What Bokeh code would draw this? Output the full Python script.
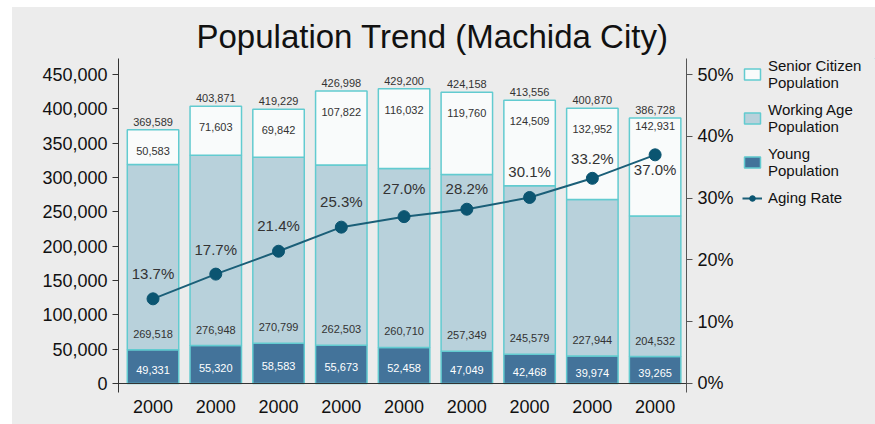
from bokeh.plotting import figure
from bokeh.layouts import row
from bokeh.models import (Range1d, LinearAxis, FixedTicker, SingleIntervalTicker,
                          NumeralTickFormatter, PrintfTickFormatter, Span, Legend,
                          LegendItem, ColumnDataSource)
from bokeh.core.properties import value
from bokeh.embed import file_html
from bokeh.resources import INLINE

# ---- data ----
year_labels = ["2000", "2000", "2000", "2000", "2000", "2000", "2000", "2000", "2000"]
young = [49331, 55320, 58583, 55673, 52458, 47049, 42468, 39974, 39265]
working = [269518, 276948, 270799, 262503, 260710, 257349, 245579, 227944, 204532]
senior = [50583, 71603, 69842, 107822, 116032, 119760, 124509, 132952, 142931]
total = [369589, 403871, 419229, 426998, 429200, 424158, 413556, 400870, 386728]
aging_rate = [13.7, 17.7, 21.4, 25.3, 27.0, 28.2, 30.1, 33.2, 37.0]
series_names = ["Senior Citizen\nPopulation", "Working Age\nPopulation",
                "Young\nPopulation", "Aging Rate"]

# ---- label placement styling (screen px) ----
rate_label_dy = [-25, -25, -26, -26, -28, -21, -26, -20, 15]
senior_label_dy = [21, 21, 21, 21, 21, 21, 21, 21, 8]

FONT = "Liberation Sans"
BG = "#ececec"
OUTLINE = "#62cbd0"
C_SEN, C_WORK, C_YOUNG = "#f9fbfb", "#b8d1db", "#43739a"
C_LINE, C_DOT = "#1b5f78", "#0b5571"

xs = list(range(len(year_labels)))
work_top = [a + b for a, b in zip(young, working)]
sen_top = [a + b for a, b in zip(work_top, senior)]

src = ColumnDataSource(dict(
    x=xs, young=young, work_top=work_top, sen_top=sen_top,
    young_mid=[v / 2 for v in young],
    young_txt=[f"{v:,}" for v in young],
    work_txt=[f"{v:,}" for v in working],
    sen_txt=[f"{v:,}" for v in senior],
    tot_txt=[f"{v:,}" for v in total],
    rate=aging_rate,
    rate_txt=[f"{v:.1f}%" for v in aging_rate],
    rate_dy=rate_label_dy,
    sen_dy=senior_label_dy,
))

ymin, ymax = -13107, 473301
p = figure(width=724, height=417, output_backend="svg", toolbar_location=None,
           x_range=Range1d(-0.55, 8.5), y_range=Range1d(ymin, ymax),
           min_border_left=106, min_border_right=48, min_border_top=51,
           min_border_bottom=32)
p.background_fill_color = BG
p.border_fill_color = BG
p.outline_line_color = None
p.grid.visible = False

p.extra_y_ranges = {"rate": Range1d(ymin / 9000, ymax / 9000)}

# title
p.title.text = "Population Trend (Machida City)"
p.title.text_font = FONT
p.title.text_font_size = "33px"
p.title.text_font_style = "normal"
p.title.text_color = "#111111"
p.title.align = "left"
p.title.offset = 78
p.title.standoff = 7

# bars
W = 0.82
bar_style = dict(line_color=OUTLINE, line_width=1.5)
r_young = p.vbar(x="x", width=W, bottom=0, top="young", source=src,
                 fill_color=C_YOUNG, **bar_style)
r_work = p.vbar(x="x", width=W, bottom="young", top="work_top", source=src,
                fill_color=C_WORK, **bar_style)
r_sen = p.vbar(x="x", width=W, bottom="work_top", top="sen_top", source=src,
               fill_color=C_SEN, **bar_style)

p.add_layout(Span(location=0, dimension="width", line_color="#333333", line_width=1.2))

# labels
common = dict(source=src, text_font=value(FONT), text_align="center")
p.text(x="x", y="sen_top", text="tot_txt", y_offset=-4, text_baseline="bottom",
       text_font_size="11px", text_color="#333333", **common)
p.text(x="x", y="sen_top", text="sen_txt", y_offset="sen_dy", text_baseline="middle",
       text_font_size="11px", text_color="#333333", **common)
p.text(x="x", y="young", text="work_txt", y_offset=-16, text_baseline="middle",
       text_font_size="11px", text_color="#333333", **common)
p.text(x="x", y="young_mid", text="young_txt", y_offset=3, text_baseline="middle",
       text_font_size="11px", text_color="#ffffff", **common)

# aging rate line
p.line(x="x", y="rate", source=src, y_range_name="rate", line_color=C_LINE, line_width=2)
p.scatter(x="x", y="rate", source=src, y_range_name="rate", size=12,
          fill_color=C_DOT, line_color=C_DOT)
p.text(x="x", y="rate", text="rate_txt", y_offset="rate_dy", y_range_name="rate",
       text_baseline="middle", text_font_size="15px", text_color="#333333", **common)

# axes
p.xaxis.ticker = FixedTicker(ticks=xs)
p.xaxis.major_label_overrides = {i: s for i, s in enumerate(year_labels)}
p.xaxis.axis_line_color = None
p.xaxis.major_tick_line_color = None
p.xaxis.minor_tick_line_color = None
p.xaxis.major_label_standoff = 1
p.xaxis.major_label_text_font = FONT
p.xaxis.major_label_text_font_size = "18px"
p.xaxis.major_label_text_color = "#111111"

ya = p.yaxis[0]
ya.ticker = FixedTicker(ticks=[0, 50000, 100000, 150000, 200000, 250000, 300000, 350000, 400000, 450000])
ya.formatter = NumeralTickFormatter(format="0,0")
ya.axis_line_color = "#333333"
ya.major_tick_line_color = "#333333"
ya.minor_tick_line_color = None
ya.major_tick_in = 0
ya.major_tick_out = 6
ya.major_label_standoff = 5
ya.major_label_text_font = FONT
ya.major_label_text_font_size = "18px"
ya.major_label_text_color = "#111111"

ra = LinearAxis(y_range_name="rate", ticker=FixedTicker(ticks=[0, 10, 20, 30, 40, 50]),
                formatter=PrintfTickFormatter(format="%d%%"))
ra.axis_line_color = "#555555"
ra.major_tick_line_color = "#555555"
ra.minor_tick_line_color = None
ra.major_tick_in = 0
ra.major_tick_out = 6
ra.major_label_standoff = 5
ra.major_label_text_font = FONT
ra.major_label_text_font_size = "18px"
ra.major_label_text_color = "#111111"
p.add_layout(ra, "right")

# ---- legend panel (separate figure to the right) ----
lg = figure(width=139, height=417, output_backend="svg", toolbar_location=None,
            x_range=Range1d(0, 1), y_range=Range1d(0, 1),
            x_axis_location=None, y_axis_location=None,
            min_border=0, min_border_left=0, min_border_right=0,
            min_border_top=0, min_border_bottom=0)
lg.background_fill_color = BG
lg.border_fill_color = BG
lg.outline_line_color = None
lg.grid.visible = False

off = dict(x=[5], top=[6], bottom=[5], width=0.5)
l_sen = lg.vbar(fill_color=C_SEN, **off, **bar_style)
l_work = lg.vbar(fill_color=C_WORK, **off, **bar_style)
l_young = lg.vbar(fill_color=C_YOUNG, **off, **bar_style)
l_line = lg.line(x=[5, 6], y=[5, 5], line_color=C_LINE, line_width=2)
l_dot = lg.scatter(x=[5], y=[5], size=12, fill_color=C_DOT, line_color=C_DOT)

legend = Legend(items=[
    LegendItem(label=series_names[0], renderers=[l_sen]),
    LegendItem(label=series_names[1], renderers=[l_work]),
    LegendItem(label=series_names[2], renderers=[l_young]),
    LegendItem(label=series_names[3], renderers=[l_line, l_dot]),
], location=(6, 186))
legend.label_text_font = FONT
legend.label_text_font_size = "15px"
legend.label_text_color = "#111111"
legend.label_text_line_height = 0.95
legend.glyph_width = 20
legend.glyph_height = 14
legend.label_standoff = 6
legend.spacing = 10
legend.padding = 0
legend.margin = 0
legend.background_fill_alpha = 0
legend.border_line_alpha = 0
lg.add_layout(legend, "center")

layout = row(p, lg, spacing=0, margin=(7, 0, 0, 12),
             styles={"background-color": BG})
open("out.html", "w").write(file_html(layout, INLINE))
